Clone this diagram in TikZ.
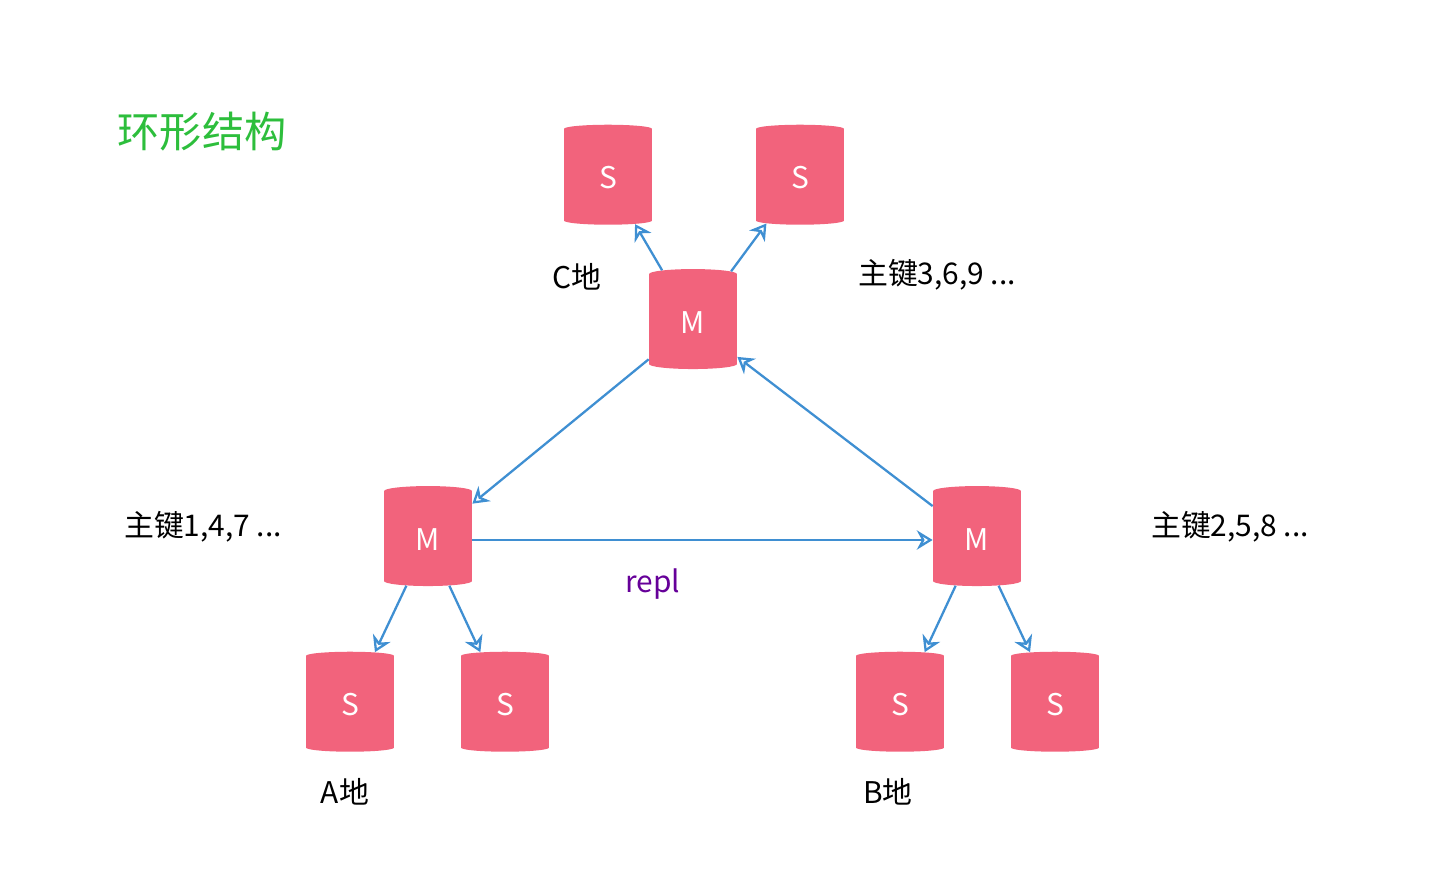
\documentclass[tikz,border=0pt]{standalone}
\usepackage{fontspec}
\setmainfont{Noto Sans CJK SC}
\usetikzlibrary{shapes.geometric,arrows.meta}
\definecolor{dbpink}{HTML}{F2637C}
\definecolor{linkblue}{HTML}{3F8FD2}
\definecolor{titlegreen}{HTML}{2DBE3C}
\tikzset{db/.style={cylinder,shape border rotate=90,aspect=0.28,draw=none,fill=dbpink,
        minimum width=1.76cm,minimum height=2cm,text=white,font=\fontsize{17}{20}\selectfont},
    link/.style={-{Stealth[open,length=9pt,width=11pt]},draw=linkblue,line width=1.3pt},
    lbl/.style={font=\fontsize{17}{20}\selectfont}
}
\begin{document}
\begin{tikzpicture}[x=0.02cm,y=-0.02cm]
\useasboundingbox (0,0) rectangle (1445,891);

\node[font=\fontsize{24}{28}\selectfont,text=titlegreen] (title) at (202,132) {环形结构};

% site C
\node[db] (cm) at (693,323) {M};
\node[db] (cs1) at (608,178) {S};
\node[db] (cs2) at (800,178) {S};
\node[lbl] (cname) at (577,277) {C地};
\node[lbl] (ckeys) at (937,275) {主键3,6,9 ...};

% site A
\node[db] (am) at (428,540) {M};
\node[db] (as1) at (350,705) {S};
\node[db] (as2) at (505,705) {S};
\node[lbl] (aname) at (345,792) {A地};
\node[lbl] (akeys) at (203,527) {主键1,4,7 ...};

% site B
\node[db] (bm) at (977,540) {M};
\node[db] (bs1) at (900,705) {S};
\node[db] (bs2) at (1055,705) {S};
\node[lbl] (bname) at (888,792) {B地};
\node[lbl] (bkeys) at (1230,527) {主键2,5,8 ...};

\node[lbl,text=violet!80!blue] (repl) at (653,584) {repl};

% ring
\draw[link] (cm) -- (am);
\draw[link] (bm) -- (cm);
\draw[link] (am.east) -- (bm.west);

% slaves
\foreach \m/\s in {cm/cs1,cm/cs2,am/as1,am/as2,bm/bs1,bm/bs2}
    \draw[link] (\m) -- (\s);
\end{tikzpicture}
\end{document}
